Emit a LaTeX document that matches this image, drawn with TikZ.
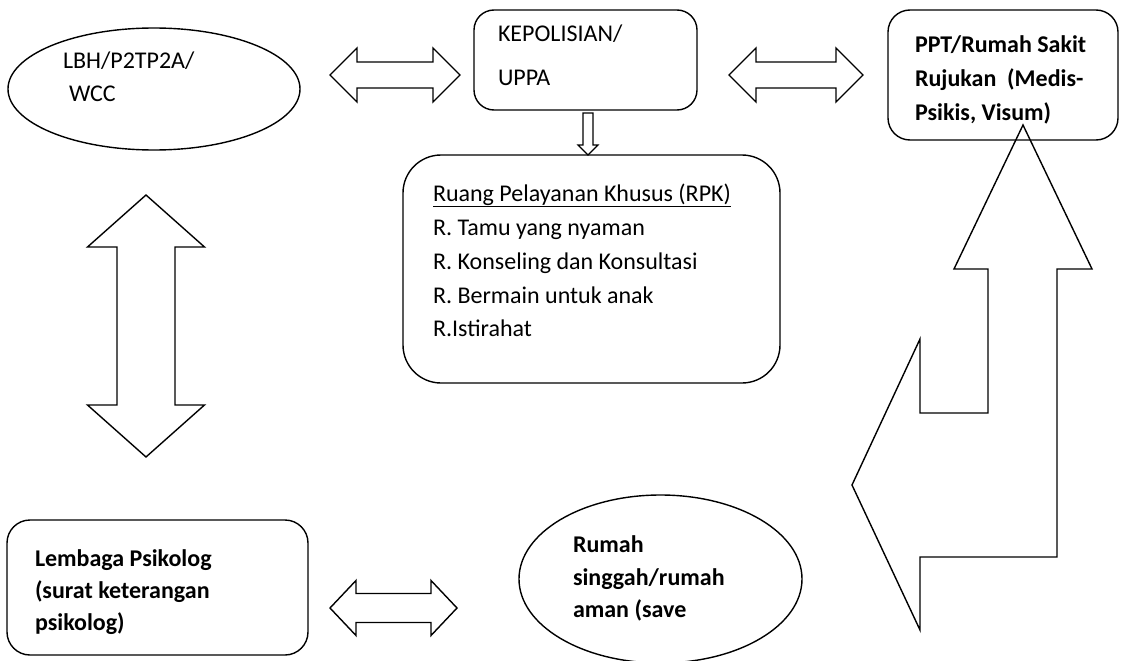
\documentclass[tikz,border=0pt]{standalone}
\usepackage{fontspec}
\setmainfont{Carlito}
\usetikzlibrary{calc,shapes.geometric}
\begin{document}
\begin{tikzpicture}[x=1pt,y=-1pt,
  outline/.style={draw=black,line width=1.4pt,line join=miter},
  roundbox/.style={outline,rectangle,inner sep=0pt,outer sep=0pt},
  ovalbox/.style={outline,ellipse,inner sep=0pt,outer sep=0pt},
  label/.style={anchor=base west,inner sep=0pt,outer sep=0pt,
    font=\fontsize{24}{28}\selectfont},
  boldlabel/.style={label,font=\fontsize{24}{28}\selectfont\bfseries}]
\useasboundingbox (0,0) rectangle (1125,661);
\clip (0,0) rectangle (1125,661);

% boxes and ovals
\node[ovalbox,minimum width=292,minimum height=122] (lbh) at (154,89) {};
\node[roundbox,rounded corners=20,minimum width=223,minimum height=100] (kep) at (585.5,60) {};
\node[roundbox,rounded corners=22,minimum width=230,minimum height=130] (ppt) at (1003,75) {};
\node[roundbox,rounded corners=38,minimum width=377,minimum height=228] (rpk) at (591.5,269) {};
\node[roundbox,rounded corners=23,minimum width=301,minimum height=135] (lem) at (157.5,587.5) {};
\node[ovalbox,minimum width=283,minimum height=168] (rum) at (660.5,579) {};

% texts
\node[label] (t1) at (63,69) {LBH/P2TP2A/};
\node[label] (t2) at (69,102) {WCC};
\node[label] (t3) at (498,42) {KEPOLISIAN/};
\node[label] (t4) at (498,85) {UPPA};
\node[boldlabel] (t5) at (915,53) {PPT/Rumah Sakit};
\node[boldlabel] (t6) at (915,87) {Rujukan\ \ (Medis-};
\node[boldlabel] (t7) at (915,120) {Psikis, Visum)};
\node[label] (t8) at (433,201) {\underline{Ruang Pelayanan Khusus (RPK)}};
\node[label] (t9) at (433,235) {R. Tamu yang nyaman};
\node[label] (t10) at (433,269) {R. Konseling dan Konsultasi};
\node[label] (t11) at (433,303) {R. Bermain untuk anak};
\node[label] (t12) at (433,336) {R.Istirahat};
\node[boldlabel] (t13) at (35,566) {Lembaga Psikolog};
\node[boldlabel] (t14) at (35,598) {(surat keterangan};
\node[boldlabel] (t15) at (35,630) {psikolog)};
\node[boldlabel] (t16) at (573,552) {Rumah};
\node[boldlabel] (t17) at (573,585) {singgah/rumah};
\node[boldlabel] (t18) at (573,617) {aman (save};

% horizontal double block arrows: left tip x, right tip x, centre y,
% head length, head half-height, shaft half-height
\newcommand{\hblock}[6]{%
  \draw[outline] (#1,#3) -- (#1+#4,#3-#5) -- (#1+#4,#3-#6) -- (#2-#4,#3-#6)
    -- (#2-#4,#3-#5) -- (#2,#3) -- (#2-#4,#3+#5) -- (#2-#4,#3+#6)
    -- (#1+#4,#3+#6) -- (#1+#4,#3+#5) -- cycle;}
\hblock{330}{460}{75}{27}{27}{13}
\hblock{729}{863}{75}{27}{27}{13}
\hblock{330}{457}{608}{26}{27.5}{14.5}

% vertical double block arrow
\draw[outline] (146,195) -- (204.5,247) -- (175,247) -- (175,405) -- (204.5,405)
  -- (146,457) -- (87.5,405) -- (117,405) -- (117,247) -- (87.5,247) -- cycle;

% small downward arrow from KEPOLISIAN to RPK
\draw[outline,line width=1.2pt] (583,113) -- (593,113) -- (593,145) -- (598,145)
  -- (588,155) -- (578,145) -- (583,145) -- cycle;

% bent block arrow pointing up to PPT and left
\draw[outline] (1023,125) -- (1092,269) -- (1057,269) -- (1057,557) -- (920,557)
  -- (920,630) -- (852,485) -- (920,339) -- (920,413) -- (988,413) -- (988,269)
  -- (954,269) -- cycle;
\end{tikzpicture}
\end{document}
